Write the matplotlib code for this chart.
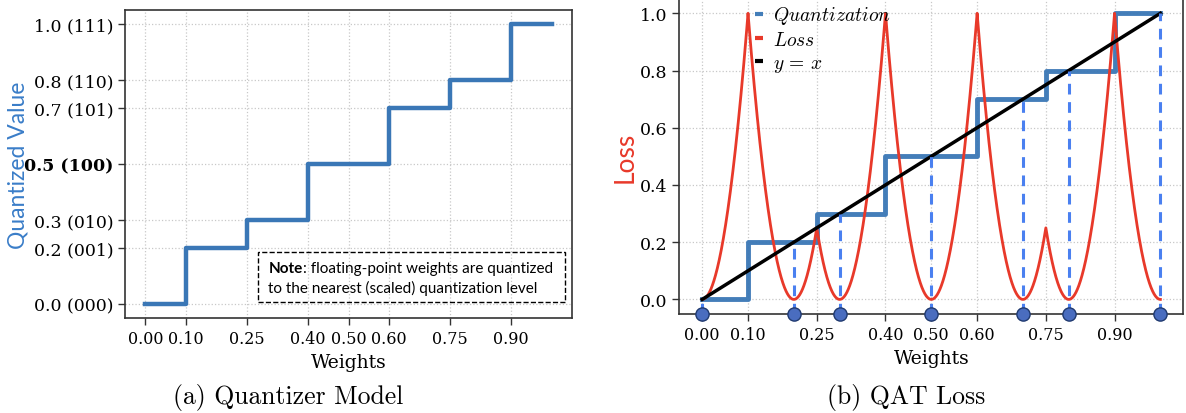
import numpy as np
import matplotlib
matplotlib.use('Agg')
import matplotlib.pyplot as plt
from matplotlib.patches import Rectangle

plt.rcParams['mathtext.fontset'] = 'cm'

# quantization levels and the thresholds where the step changes
weight_ticks = [0.00, 0.10, 0.25, 0.40, 0.50, 0.60, 0.75, 0.90]
levels = [0.0, 0.2, 0.3, 0.5, 0.7, 0.8, 1.0]
level_codes = ['000', '001', '010', '100', '101', '110', '111']
thresholds = [0.1, 0.25, 0.4, 0.6, 0.75, 0.9]
loss_ticks = [0.0, 0.2, 0.4, 0.6, 0.8, 1.0]
w_start, w_end = 0.0, 1.0
loss_scale = 0.1  # loss = ((w - Q(w)) / scale)^2, peaks normalised to 1

step_color = '#3a77b6'
loss_color = '#e8392a'
dash_color = '#4a80f0'
serif = 'DejaVu Serif'
sans = 'Lato'

W, H = 1186, 414
fig = plt.figure(figsize=(W / 100, H / 100), dpi=100)
ax1 = fig.add_axes([125 / W, 1 - 319.3 / H, (572 - 125) / W, (319.3 - 10.7) / H])
ax2 = fig.add_axes([679.3 / W, 1 - 314.7 / H, (1183.3 - 679.3) / W, 314.7 / H])

# step coordinates built from levels / thresholds
step_x = [w_start] + thresholds + [w_end]
step_y = levels + [levels[-1]]


def quantize(w):
    idx = np.searchsorted(thresholds, w, side='right')
    return np.array(levels)[idx]


def style_axes(ax):
    ax.set_xlim(-0.05, 1.05)
    ax.set_ylim(-0.05, 1.05)
    ax.set_xticks(weight_ticks)
    ax.set_xticklabels([f'{t:.2f}' for t in weight_ticks], family=serif, fontsize=11.5)
    ax.grid(True, color='#c8c8c8', linestyle=':', linewidth=0.9)
    ax.set_axisbelow(True)
    ax.tick_params(direction='out', length=5, width=1, color='#333333')
    ax.set_xlabel('Weights', family=serif, fontsize=13.5, labelpad=4.5)
    for s in ax.spines.values():
        s.set_color('#333333')
        s.set_linewidth(1.2)


# ---- (a) Quantizer model ----
style_axes(ax1)
ax1.step(step_x, step_y, where='post', color=step_color, linewidth=3.2)
ax1.set_yticks(levels)
ylabels = ax1.set_yticklabels([f'{v:.1f} ({c})' for v, c in zip(levels, level_codes)],
                              family=serif, fontsize=12.5)
ylabels[levels.index(0.5)].set_fontweight('bold')
ax1.set_ylabel('Quantized Value', family=sans, fontsize=16.5, color='#3a7dc8')
ax1.yaxis.set_label_coords(-0.217, 0.5)

# dashed note box
ax1.add_patch(Rectangle((0.2766, 0.0096), 1.0328 - 0.2766, 0.1877 - 0.0096,
                        fill=False, edgecolor='black', linestyle='--', linewidth=1,
                        zorder=4))
note = ax1.text(0.303, 0.131, 'Note', family=sans, fontsize=11, weight='bold',
                va='center', ha='left', zorder=5)
ax1.annotate(': floating-point weights are quantized', xy=(1, 0), xycoords=note,
             family=sans, fontsize=11, va='bottom', ha='left', zorder=5)
ax1.text(0.303, 0.060, 'to the nearest (scaled) quantization level', family=sans,
         fontsize=11, va='center', ha='left', zorder=5)

# ---- (b) QAT loss ----
style_axes(ax2)
ax2.set_yticks(loss_ticks)
ax2.set_yticklabels([f'{v:.1f}' for v in loss_ticks], family=serif, fontsize=12.5)
ax2.set_ylabel('Loss', family=sans, fontsize=19, color=loss_color)
ax2.yaxis.set_label_coords(-0.082, 0.5)

w = np.linspace(w_start, w_end, 2001)
loss = ((w - quantize(w)) / loss_scale) ** 2

ax2.step(step_x, step_y, where='post', color=step_color, linewidth=3.5, alpha=0.95,
         label=r'$Quantization$', zorder=2)
ax2.plot(w, loss, color=loss_color, linewidth=2, label=r'$Loss$', zorder=3)
ax2.plot([w_start, w_end], [w_start, w_end], color='black', linewidth=2.5,
         label=r'$y\,=\,x$', zorder=4)
for lv in levels:
    ax2.plot([lv, lv], [-0.05, lv], color=dash_color, linewidth=2.2,
             linestyle=(0, (3.5, 2.5)), zorder=5)
ax2.plot(levels, [-0.05] * len(levels), 'o', markersize=9.5,
         markerfacecolor='#4a6dbf', markeredgecolor='#203a70',
         markeredgewidth=1, clip_on=False, zorder=6)

leg = ax2.legend(loc='upper left', bbox_to_anchor=(0.128, 1.02), frameon=False,
                 handlelength=0.38, handletextpad=0.5, labelspacing=0.2,
                 borderpad=0.1, fontsize=14)
for line in leg.get_lines():
    line.set_linewidth(3)
    line.set_solid_capstyle('butt')

fig.text(288 / W, 1 - 398 / H, '(a) Quantizer Model', family='cmr10', fontsize=18.5,
         ha='center', va='center')
fig.text(906 / W, 1 - 398 / H, '(b) QAT Loss', family='cmr10', fontsize=18.5,
         ha='center', va='center')

fig.savefig('out.png', dpi=100)
